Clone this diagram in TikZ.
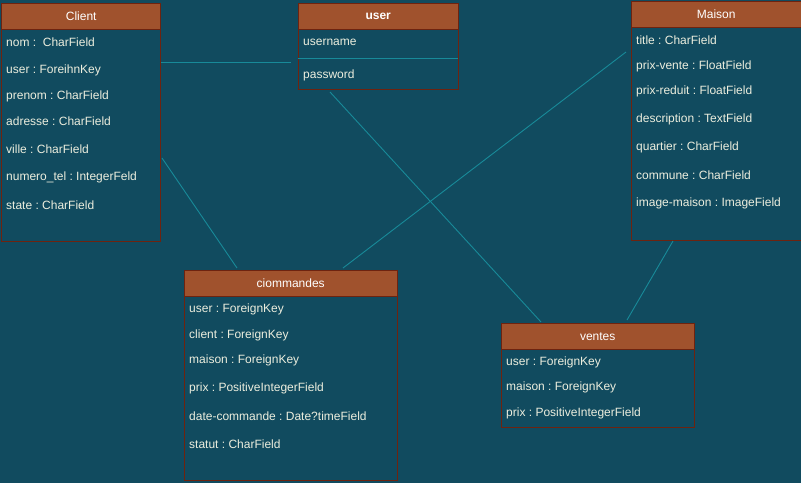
\documentclass[tikz,border=0pt]{standalone}
\usepackage{fontspec}
\setmainfont{Liberation Sans}
\frenchspacing
\definecolor{bg}{RGB}{17,75,95}
\definecolor{hdr}{RGB}{160,82,45}
\definecolor{bdr}{RGB}{110,35,15}
\definecolor{txt}{RGB}{236,238,222}
\definecolor{lnk}{RGB}{24,138,153}
\begin{document}
\begin{tikzpicture}[x=1pt,y=-1pt,font=\fontsize{12}{14}\selectfont\frenchspacing,
  entity/.style={draw=bdr,line width=1.4pt,fill=bg,anchor=north west,inner sep=0pt},
  header/.style={draw=bdr,line width=1.4pt,fill=hdr,anchor=north west,inner sep=0pt,text=white,minimum height=26pt},
  row/.style={anchor=west,inner sep=0pt,text=txt},
  link/.style={draw=lnk,line width=0.9pt}]
\fill[bg] (0,0) rectangle (801,483);
\useasboundingbox (0,0) rectangle (801,483);

% Client
\node[entity,minimum width=159pt,minimum height=238pt] (client) at (1,2.5) {};
\node[header,minimum width=159pt] (clienth) at (1,2.5) {Client};
\node[row] (c1) at (6,42) {nom :\ \ CharField};
\node[row] (c2) at (6,70) {user : ForeihnKey};
\node[row] (c3) at (6,96) {prenom : CharField};
\node[row] (c4) at (6,121) {adresse : CharField};
\node[row] (c5) at (6,149) {ville : CharField};
\node[row] (c6) at (6,177) {numero\_tel : IntegerFeld};
\node[row] (c7) at (6,205) {state : CharField};

% user
\node[entity,minimum width=160pt,minimum height=86pt] (user) at (297.5,2.5) {};
\node[header,minimum width=160pt,font=\fontsize{12}{14}\selectfont\bfseries] (userh) at (297.5,2.5) {user};
\node[row] (u1) at (303,42) {username};
\coordinate (usl) at (297.5,58);
\coordinate (usr) at (457.5,58);
\draw[link] (usl) -- (usr);
\node[row] (u2) at (303,75) {password};

% Maison
\node[entity,minimum width=170pt,minimum height=239pt] (maison) at (630.5,0.7) {};
\node[header,minimum width=170pt] (maisonh) at (630.5,0.7) {Maison};
\node[row] (m1) at (636,40) {title : CharField};
\node[row] (m2) at (636,66) {prix-vente : FloatField};
\node[row] (m3) at (636,91) {prix-reduit : FloatField};
\node[row] (m4) at (636,119) {description : TextField};
\node[row] (m5) at (636,147) {quartier : CharField};
\node[row] (m6) at (636,175) {commune : CharField};
\node[row] (m7) at (636,203) {image-maison : ImageField};

% ciommandes
\node[entity,minimum width=213pt,minimum height=210pt] (cmd) at (183.5,269.5) {};
\node[header,minimum width=213pt] (cmdh) at (183.5,269.5) {ciommandes};
\node[row] (k1) at (189,309) {user : ForeignKey};
\node[row] (k2) at (189,335) {client : ForeignKey};
\node[row] (k3) at (189,360) {maison : ForeignKey};
\node[row] (k4) at (189,388) {prix : PositiveIntegerField};
\node[row] (k5) at (189,416) {date-commande : Date?timeField};
\node[row] (k6) at (189,444) {statut : CharField};

% ventes
\node[entity,minimum width=193pt,minimum height=104pt] (ventes) at (500.5,322.5) {};
\node[header,minimum width=193pt] (ventesh) at (500.5,322.5) {ventes};
\node[row] (v1) at (506,362) {user : ForeignKey};
\node[row] (v2) at (506,387) {maison : ForeignKey};
\node[row] (v3) at (506,413) {prix : PositiveIntegerField};

% connectors
\coordinate (a1) at (161,62);   \coordinate (a2) at (291,62);
\coordinate (b1) at (162,158);  \coordinate (b2) at (237,268);
\coordinate (d1) at (330,92);   \coordinate (d2) at (541,322);
\coordinate (e1) at (626,52);   \coordinate (e2) at (343,268);
\coordinate (f1) at (673,241);  \coordinate (f2) at (627,320);
\draw[link] (a1) -- (a2);
\draw[link] (b1) -- (b2);
\draw[link] (d1) -- (d2);
\draw[link] (e1) -- (e2);
\draw[link] (f1) -- (f2);
\end{tikzpicture}
\end{document}
